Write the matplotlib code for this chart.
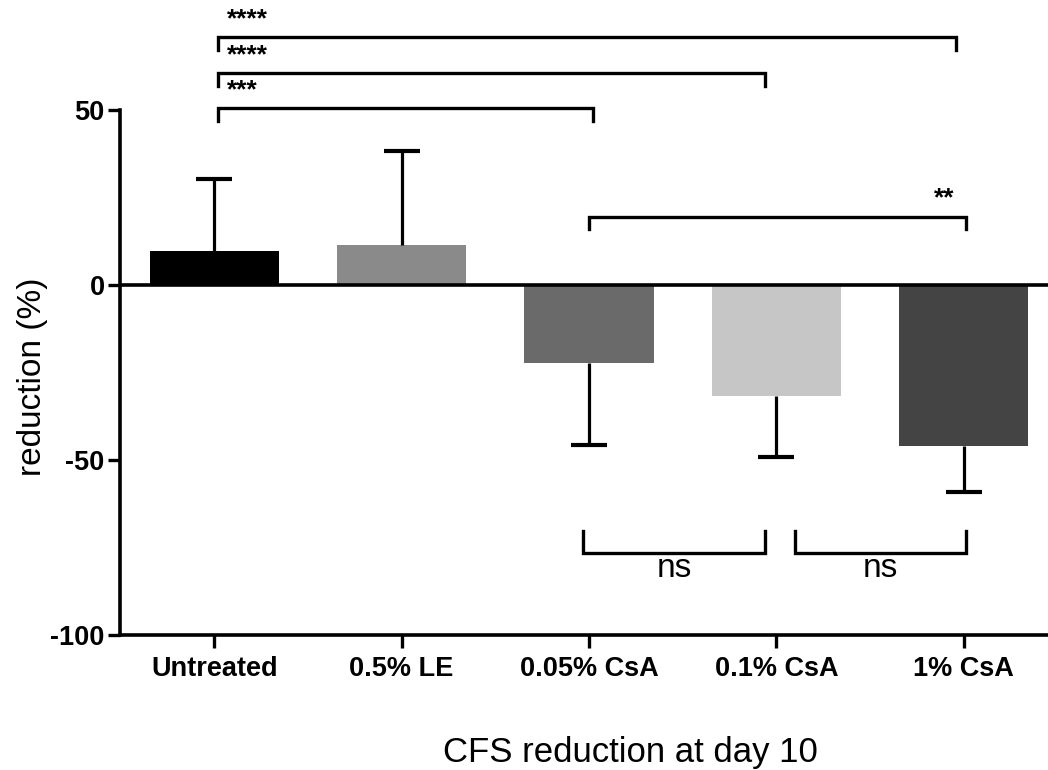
import matplotlib
matplotlib.use("Agg")
import matplotlib.pyplot as plt
import numpy as np

plt.rcParams['font.family'] = ['Liberation Sans', 'DejaVu Sans']

categories = ['Untreated', '0.5% LE', '0.05% CsA', '0.1% CsA', '1% CsA']
means = [9.7, 11.4, -22.3, -31.6, -45.9]
errs = [20.6, 26.9, 23.4, 17.5, 13.3]
colors = ['#000000', '#8a8a8a', '#6a6a6a', '#c6c6c6', '#444444']

# significance brackets above: (x_start, x_end, y, label)
sig_above = [
    (0.02, 3.96, 70.8, '****'),
    (0.02, 2.94, 60.5, '****'),
    (0.02, 2.02, 50.5, '***'),
    (2.00, 4.01, 19.5, '**'),
]
# brackets below: (x_start, x_end, y, label)
sig_below = [
    (1.97, 2.94, -76.5, 'ns'),
    (3.10, 4.01, -76.5, 'ns'),
]

fig = plt.figure(figsize=(10.48, 7.7), dpi=100)
ax = fig.add_axes([0.1145, 0.1753, 0.8855, 0.6818])

x = np.arange(len(categories))
means_a = np.array(means)
errs_a = np.array(errs)
ends = means_a + np.sign(means_a) * errs_a

ax.bar(x, means_a, width=0.69, color=colors, zorder=2)
ax.vlines(x, means_a, ends, color='black', lw=2.3, zorder=3)
ax.plot(x, ends, linestyle='none', marker='_', markersize=26, mew=3.0,
        color='black', zorder=3)
ax.axhline(0, color='black', lw=2.6, zorder=4)

ax.set_xlim(-0.503, 4.45)
ax.set_ylim(-100, 50)
ax.set_yticks([-100, -50, 0, 50])
ax.set_yticklabels(['-100', '-50', '0', '50'], fontsize=19.5, fontweight='bold')
ax.set_xticks(x)
ax.set_xticklabels(categories, fontsize=19.5, fontweight='bold')
ax.tick_params(axis='both', length=9, width=2.4)
ax.tick_params(axis='y', pad=2)
ax.tick_params(axis='x', pad=6)

for s in ['top', 'right']:
    ax.spines[s].set_visible(False)
for s in ['left', 'bottom']:
    ax.spines[s].set_linewidth(2.6)

fig.text(33 / 1048, 1 - 377 / 770, 'reduction (%)', rotation=90, fontsize=24,
         ha='center', va='center')
fig.text(630 / 1048, 1 - 762 / 770, 'CFS reduction at day 10', fontsize=25,
         ha='center', va='baseline')

tick_h = 3.6
for (x0, x1, y, lab) in sig_above:
    ax.plot([x0, x0, x1, x1], [y - tick_h, y, y, y - tick_h], color='black',
            lw=2.4, clip_on=False, solid_joinstyle='miter')
    if lab == '**':
        ax.text(3.95, y + 5.2, lab, ha='right', va='center', fontsize=19,
                fontweight='bold')
    else:
        ax.text(0.07, y + 5.2, lab, ha='left', va='center', fontsize=19,
                fontweight='bold', clip_on=False)

for (x0, x1, y, lab) in sig_below:
    ax.plot([x0, x0, x1, x1], [y + 6.2, y, y, y + 6.2], color='black',
            lw=2.4, solid_joinstyle='miter')
    ax.text((x0 + x1) / 2, y - 4.6, lab, ha='center', va='center', fontsize=24)

fig.savefig('out.png', dpi=100)
